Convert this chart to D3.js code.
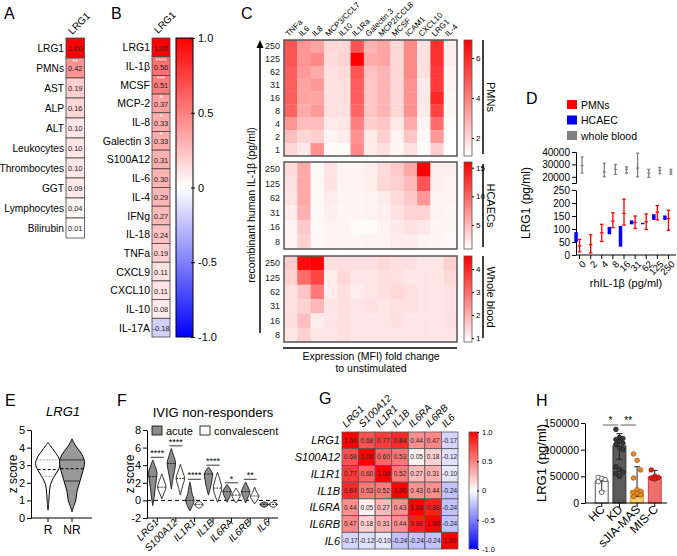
<!DOCTYPE html>
<html><head><meta charset="utf-8">
<script src="https://cdn.jsdelivr.net/npm/d3@7"></script>
<style>body{margin:0;background:#fff}svg{display:block}text{font-family:"Liberation Sans",Arial,sans-serif}</style>
</head><body><svg id="chart" width="677" height="556"></svg>
<script>
// ---------------- DATA ----------------
const aLabels = ["LRG1","PMNs","AST","ALP","ALT","Leukocytes","Thrombocytes","GGT","Lymphocytes","Bilirubin"];
const aValues = [1.00,0.42,0.19,0.16,0.10,0.10,0.10,0.09,0.04,0.01];
const aStars  = ["","**","","","","","","","",""];

const bLabels = ["LRG1","IL-1β","MCSF","MCP-2","IL-8","Galectin 3","S100A12","IL-6","IL-4","IFNg","IL-18","TNFa","CXCL9","CXCL10","IL-10","IL-17A"];
const bValues = [1.00,0.56,0.51,0.37,0.33,0.33,0.31,0.30,0.29,0.27,0.24,0.19,0.11,0.11,0.08,-0.18];
const bStars  = ["","****","***","*","*","*","","","","","","","","","",""];
const corrTicks = [-1,-0.5,0,0.5,1];

const cColumns = ["TNFa","IL6","IL8","MCP3/CCL7","IL10","IL1Ra","Galectin 3","MCP2/CCL8","MCSF","ICAM1","CXCL10","LRG1","IL-4"];
const cRowsPMN = ["250","125","62","31","16","8","4","2","1"];
const cRowsOther = ["250","125","62","31","16","8"];
const cPMN = [
 [5.0,3.5,3.2,2.0,2.0,5.0,2.8,3.2,2.0,3.8,1.8,5.8,1.5],
 [5.0,3.5,3.8,1.9,2.1,6.9,3.0,3.2,2.0,3.8,1.8,5.8,1.5],
 [4.8,3.4,3.0,1.8,1.9,5.0,2.5,2.8,2.0,3.8,1.8,5.6,1.4],
 [4.8,3.2,3.4,1.8,1.8,4.8,2.4,2.8,2.0,3.6,1.6,5.6,1.4],
 [4.8,3.2,3.2,1.8,1.8,4.8,2.4,2.8,2.0,3.6,1.6,6.0,1.3],
 [4.6,3.0,3.4,1.8,1.8,4.6,2.4,2.8,2.0,3.6,1.6,5.4,1.3],
 [3.5,2.6,2.6,1.6,1.7,4.0,2.2,2.4,1.6,3.0,1.4,4.4,1.2],
 [2.6,2.0,2.2,1.4,1.5,3.6,1.6,2.2,1.4,2.4,1.3,3.4,1.1],
 [2.0,1.6,3.6,1.2,1.2,3.8,1.6,1.8,1.3,1.8,1.2,2.2,1.1]
];
const cHCAEC = [
 [3.0,6.0,1.2,2.5,1.6,1.6,1.8,3.0,4.0,6.0,16.0,1.8,1.8],
 [2.6,6.0,1.2,2.6,1.5,1.6,1.8,3.2,3.6,5.0,11.0,1.8,1.6],
 [2.4,6.0,1.2,2.0,1.5,1.4,1.6,2.0,3.0,4.0,7.0,1.6,1.6],
 [2.0,5.5,1.2,1.8,1.4,1.4,1.6,1.8,2.6,3.4,3.4,1.6,1.4],
 [1.6,4.0,1.2,1.6,1.4,1.1,1.1,1.6,2.2,2.6,2.2,1.4,1.4],
 [1.6,3.6,1.2,1.6,1.4,1.4,1.6,1.6,2.0,2.0,1.6,1.4,1.2]
];
const cWB = [
 [1.6,4.4,4.6,1.3,1.3,1.3,1.3,1.4,1.3,1.3,1.2,1.2,1.5],
 [1.5,3.0,3.6,1.1,1.4,1.2,1.2,1.3,1.3,1.2,1.2,1.2,1.4],
 [1.3,1.7,2.8,1.1,1.3,1.1,1.2,1.3,1.4,1.3,1.2,1.2,1.3],
 [1.3,1.5,1.9,1.2,1.3,1.2,1.3,1.2,1.3,1.3,1.2,1.2,1.3],
 [1.3,1.8,1.1,1.2,1.3,1.2,1.2,1.2,1.3,1.2,1.2,1.2,1.3],
 [1.2,1.5,1.2,1.2,1.3,1.2,1.2,1.2,1.2,1.2,1.2,1.2,1.2]
];
const cTicksPMN = [2,4,6], cTicksHC = [5,10,15], cTicksWB = [1,2,3,4];

const dCats = ["0","2","4","8","16","31","62","125","250"];
// [min, mean, max]
const dPMN = [[12,35,60],[8,40,78],[52,85,118],[105,130,162],[115,160,215],[102,125,150],[98,128,158],[135,165,190],[95,140,172]];
const dHCAEC = [[50,70,88],null,null,[80,92,108],[32,60,112],[118,126,133],[120,122,124],[135,147,157],[135,143,152]];
const dWB = [[23000,29000,36000],null,[20000,24000,31000],[22000,26000,30000],[23000,26000,28000],[20000,27000,39000],[19500,23000,26000],[22500,25000,27500],[22000,24000,26000]];
const dTicksTop = [20000,30000,40000], dTicksBottom = [0,50,100,150,200,250];

const eGroups = ["R","NR"];
const eR  = [[0.45,0],[0.9,0.06],[1.4,0.1],[1.9,0.2],[2.3,0.45],[2.7,0.8],[3.1,1],[3.5,0.8],[3.8,0.5],[4.1,0.2],[4.3,0]];
const eNR = [[0.35,0],[0.7,0.15],[1.0,0.3],[1.5,0.4],[2.0,0.6],[2.5,0.8],[2.9,0.95],[3.2,1],[3.6,0.8],[3.9,0.5],[4.2,0.2],[4.5,0]];
const eStats = [[2.35,2.75,3.3],[2.1,2.8,3.3]]; // q1, median, q3

const fCats = ["LRG1","S100A12","IL1R1","IL1B","IL6RA","IL6RB","IL6"];
const fAcute = [
 [[-0.6,0],[0.5,0.35],[1.5,0.6],[2.5,0.9],[3.2,1],[3.9,0.55],[4.6,0]],
 [[1.3,0],[2.5,0.4],[3.5,0.8],[4.3,1],[5.0,0.6],[5.9,0]],
 [[-1.2,0],[-0.6,0.6],[0,1],[0.8,0.5],[1.5,0.25],[2.1,0]],
 [[0.6,0],[1.5,0.5],[2.4,0.85],[3.0,1],[3.4,0.6],[3.8,0]],
 [[-0.2,0],[0.4,0.6],[1.0,1],[1.4,0.6],[1.8,0]],
 [[-0.3,0],[0.4,0.6],[1.0,1],[1.5,0.6],[2.1,0]],
 [[-0.8,0],[-0.6,0.8],[-0.45,1],[-0.3,0.7],[-0.15,0]]
];
const fConv = [
 [[0.2,0],[0.8,0.5],[1.5,1],[2.2,0.6],[3.0,0]],
 [[0.6,0],[1.5,0.45],[2.5,1],[3.2,0.6],[4.1,0]],
 [[-0.9,0],[-0.65,0.8],[-0.45,1],[-0.25,0.6],[-0.05,0]],
 [[-0.2,0],[0.6,0.6],[1.4,1],[2.3,0.6],[3.2,0]],
 [[-0.3,0],[0.2,0.7],[0.6,1],[1.0,0.5],[1.4,0]],
 [[-0.4,0],[0.1,0.7],[0.5,1],[0.9,0.5],[1.5,0]],
 [[-0.8,0],[-0.6,0.8],[-0.45,1],[-0.3,0.7],[-0.15,0]]
];
const fMedAcute = [2.7,4.2,0,3.0,1.0,1.0,-0.45];
const fMedConv  = [1.5,2.5,-0.45,1.4,0.6,0.5,-0.45];
const fSig = ["****","****","****","****","*","**",""];
const fSigAt = [4.9,6.2,2.4,4.0,2.0,2.4,null];
const fTicks = [-2,0,2,4,6,8];

const gLabels = ["LRG1","S100A12","IL1R1","IL1B","IL6RA","IL6RB","IL6"];
const gMatrix = [
 [1.00,0.68,0.77,0.84,0.44,0.47,-0.17],
 [0.68,1.00,0.60,0.53,0.05,0.18,-0.12],
 [0.77,0.60,1.00,0.52,0.27,0.31,-0.10],
 [0.84,0.53,0.52,1.00,0.43,0.44,-0.24],
 [0.44,0.05,0.27,0.43,1.00,0.88,-0.24],
 [0.47,0.18,0.31,0.44,0.88,1.00,-0.24],
 [-0.17,-0.12,-0.10,-0.24,-0.24,-0.24,1.00]
];

const hGroups = ["HC","KD","sJIA-MAS","MIS-C"];
const hMeans = [41000,107000,23000,49000];
const hErrLow = [22000,82000,12000,43000];
const hErrHigh = [48000,130000,68000,61000];
const hPoints = [
 [48000,46000,44000,40000,20000],
 [138000,123000,121000,119000,115000,112000,110000,104000,100000,68000,63000,58000,55000,50000],
 [92000,80000,62000,47000,25000,22000,20000,18000,15000,12000],
 [62000,50000,48000,47000,45000]
];
const hTicks = [0,50000,100000,150000];

// ---------------- HELPERS ----------------
const FONT = '"Liberation Sans", Arial, sans-serif';
const svg = d3.select("#chart");
const defs = svg.append("defs");
function vgrad(id, stops){
  const g = defs.append("linearGradient").attr("id",id).attr("x1",0).attr("y1",0).attr("x2",0).attr("y2",1);
  stops.forEach(s=>g.append("stop").attr("offset",s[0]).attr("stop-color",s[1]));
}
vgrad("gRWB", [["0%","#ff0000"],["50%","#ffffff"],["100%","#0000ff"]]);
vgrad("gWR", [["0%","#ff0000"],["100%","#ffffff"]]);
const rwb = d3.scaleLinear().domain([-1,0,1]).range(["#0000ff","#ffffff","#ff0000"]);
const hy = s => String(s).replace("\u2212","-");
const f2 = v => hy(d3.format(".2f")(v));
const fCorr = d => d===0 ? "0" : hy(d3.format(".1f")(d));
const fInt = d => hy(d3.format("d")(d));

function txt(g, x, y, s, size, o={}) {
  const t = g.append("text").attr("x",x).attr("y",y).attr("font-size",size).text(s);
  if (o.anchor) t.attr("text-anchor", o.anchor);
  if (o.rot != null) t.attr("transform", `rotate(${o.rot},${x},${y})`);
  if (o.italic) t.attr("font-style","italic");
  if (o.fill) t.attr("fill", o.fill);
  return t;
}
function styleAxis(g, size){
  g.attr("font-family", FONT).attr("font-size", size);
  g.selectAll("path,line").attr("stroke","#000");
  g.selectAll("text").attr("fill","#000");
  return g;
}
function interpW(prof, v){
  for (let i=1;i<prof.length;i++){
    if (v <= prof[i][0]) {
      const a = prof[i-1], b = prof[i];
      return a[1] + (b[1]-a[1])*(v-a[0])/(b[0]-a[0]);
    }
  }
  return 0;
}
function violin(g, prof, cx, yS, half, fill, sw){
  const area = d3.area().curve(d3.curveCatmullRom)
    .y(d=>yS(d[0])).x0(d=>cx - d[1]*half).x1(d=>cx + d[1]*half);
  g.append("path").attr("d", area(prof)).attr("fill", fill).attr("stroke","#000").attr("stroke-width", sw||1);
}

// Panel letters
[["A",4,19],["B",111,19],["C",241,19],["D",526,104],["E",5,406],["F",117,406],["G",319,404],["H",536,406]]
  .forEach(l=>txt(svg,l[1],l[2],l[0],16));

// ---------------- PANEL A ----------------
{
  const g = svg.append("g");
  const y = d3.scaleBand().domain(aLabels).range([38,238]);
  const x = d3.scaleBand().domain(["LRG1"]).range([66,84.5]);
  const cx = x("LRG1") + x.bandwidth()/2;
  g.selectAll("rect").data(aLabels).join("rect")
    .attr("x", x("LRG1")).attr("y", d=>y(d)).attr("width", x.bandwidth()).attr("height", y.bandwidth())
    .attr("fill", (d,i)=>rwb(aValues[i])).attr("stroke","#444").attr("stroke-width",0.8);
  aLabels.forEach((d,i)=>{
    const my = y(d)+y.bandwidth()/2;
    txt(g, 64, my+4, d, 10.2, {anchor:"end"});
    txt(g, cx, my+3, f2(aValues[i]), 7.5, {anchor:"middle", fill:"#222"});
    if (aStars[i]) txt(g, cx, y(d)+6, aStars[i], 7, {anchor:"middle", fill:"#fff"});
  });
  txt(g, cx-3, 35, "LRG1", 10, {rot:-45});
}

// ---------------- PANEL B ----------------
{
  const g = svg.append("g");
  const y = d3.scaleBand().domain(bLabels).range([38,337]);
  const x = d3.scaleBand().domain(["LRG1"]).range([152,170]);
  const cx = x("LRG1") + x.bandwidth()/2;
  g.selectAll("rect").data(bLabels).join("rect")
    .attr("x", x("LRG1")).attr("y", d=>y(d)).attr("width", x.bandwidth()).attr("height", y.bandwidth())
    .attr("fill", (d,i)=>rwb(bValues[i])).attr("stroke","#444").attr("stroke-width",0.8);
  bLabels.forEach((d,i)=>{
    const my = y(d)+y.bandwidth()/2;
    txt(g, 150, my+4, d, 10.5, {anchor:"end"});
    txt(g, cx, my+3.5, f2(bValues[i]), 7.5, {anchor:"middle", fill:"#222"});
    if (bStars[i]) txt(g, cx, y(d)+6, bStars[i], 7, {anchor:"middle", fill:"#fff"});
  });
  txt(g, cx-3, 34, "LRG1", 10, {rot:-45});
  g.append("rect").attr("x",176).attr("y",38).attr("width",17).attr("height",299)
    .attr("fill","url(#gRWB)").attr("stroke","#000").attr("stroke-width",1);
  const s = d3.scaleLinear().domain([-1,1]).range([337,38]);
  const ax = g.append("g").attr("transform","translate(191,0)")
    .call(d3.axisRight(s).tickValues(corrTicks).tickSize(4).tickPadding(3).tickFormat(fCorr));
  ax.select(".domain").remove();
  styleAxis(ax, 11);
}

// ---------------- PANEL C ----------------
{
  const g = svg.append("g");
  const x = d3.scaleBand().domain(cColumns).range([284,457]);
  const panels = [
    {rows:cRowsPMN, data:cPMN, y0:40, y1:156, ticks:cTicksPMN, dom:[1.1,6.9], name:"PMNs", ly0:40, ly1:154},
    {rows:cRowsOther, data:cHCAEC, y0:162, y1:249, ticks:cTicksHC, dom:[0.8,16], name:"HCAECs", ly0:164, ly1:247},
    {rows:cRowsOther, data:cWB, y0:256, y1:342, ticks:cTicksWB, dom:[0.83,4.57], name:"Whole blood", ly0:256, ly1:338}
  ];
  panels.forEach(p=>{
    const y = d3.scaleBand().domain(p.rows).range([p.y0,p.y1]);
    const col = d3.scaleLinear().domain(p.dom).range(["#ffffff","#ff0000"]).clamp(true);
    const cells = [];
    p.rows.forEach((r,i)=>cColumns.forEach((c,j)=>cells.push({r,c,v:p.data[i][j]})));
    g.append("g").selectAll("rect").data(cells).join("rect")
      .attr("x", d=>x(d.c)).attr("y", d=>y(d.r)).attr("width", x.bandwidth()+0.3).attr("height", y.bandwidth()+0.3)
      .attr("fill", d=>col(d.v));
    g.append("rect").attr("x",284).attr("y",p.y0).attr("width",173).attr("height",p.y1-p.y0)
      .attr("fill","none").attr("stroke","#555").attr("stroke-width",1.5);
    p.rows.forEach(r=>txt(g, 280, y(r)+y.bandwidth()/2+3, r, 9, {anchor:"end", fill:"#222"}));
    g.append("rect").attr("x",464).attr("y",p.y0).attr("width",8).attr("height",p.y1-p.y0)
      .attr("fill","url(#gWR)").attr("stroke","#555").attr("stroke-width",0.8);
    const s = d3.scaleLinear().domain(p.dom).range([p.y1,p.y0]);
    const ax = g.append("g").attr("transform","translate(472,0)")
      .call(d3.axisRight(s).tickValues(p.ticks).tickSize(2).tickPadding(2).tickFormat(fInt));
    ax.select(".domain").remove();
    styleAxis(ax, 8);
    g.append("line").attr("x1",483).attr("x2",483).attr("y1",p.ly0).attr("y2",p.ly1).attr("stroke","#000").attr("stroke-width",1.5);
    txt(g, 487, (p.ly0+p.ly1)/2, p.name, 11, {anchor:"middle", rot:90});
  });
  cColumns.forEach(c=>txt(g, x(c)+x.bandwidth()/2-2, 37, c, 8, {rot:-45}));
  g.append("line").attr("x1",260).attr("x2",260).attr("y1",46).attr("y2",333).attr("stroke","#000").attr("stroke-width",1.5);
  g.append("path").attr("d","M256.5,48 L263.5,48 L260,40 Z").attr("fill","#000");
  txt(g, 255, 205, "recombinant human IL-1β (pg/ml)", 10.5, {anchor:"middle", rot:-90});
  g.append("line").attr("x1",283).attr("x2",457).attr("y1",348).attr("y2",348).attr("stroke","#000").attr("stroke-width",1.5);
  txt(g, 371, 360, "Expression (MFI) fold change", 10.5, {anchor:"middle"});
  txt(g, 371, 372, "to unstimulated", 10.5, {anchor:"middle"});
}

// ---------------- PANEL D ----------------
{
  const g = svg.append("g");
  const legend = [["PMNs","#ff0000"],["HCAEC","#0000ff"],["whole blood","#808080"]];
  legend.forEach((l,i)=>{
    g.append("rect").attr("x",567).attr("y",100+i*15.5).attr("width",10).attr("height",9).attr("fill",l[1]);
    txt(g, 581, 108.5+i*15.5, l[0], 10.5);
  });
  const x = d3.scaleBand().domain(dCats).range([574,674]);
  const yT = d3.scaleLinear().domain([15000,40000]).range([183,152]);
  const yB = d3.scaleLinear().domain([0,250]).range([255,190]);
  const axT = g.append("g").attr("transform","translate(576,0)")
    .call(d3.axisLeft(yT).tickValues(dTicksTop).tickSize(4).tickSizeOuter(4).tickPadding(2).tickFormat(fInt));
  styleAxis(axT, 10);
  const axB = g.append("g").attr("transform","translate(576,0)")
    .call(d3.axisLeft(yB).tickValues(dTicksBottom).tickSize(4).tickSizeOuter(0).tickPadding(2).tickFormat(fInt));
  styleAxis(axB, 10);
  g.append("line").attr("x1",576).attr("x2",676).attr("y1",255).attr("y2",255).attr("stroke","#000");
  const axX = g.append("g").attr("transform","translate(0,255)")
    .call(d3.axisBottom(x).tickSize(4).tickSizeOuter(0));
  axX.select(".domain").remove();
  styleAxis(axX, 9.5);
  axX.selectAll(".tick text").attr("text-anchor","end").attr("dx","-0.2em").attr("dy","0.5em").attr("transform","rotate(-45)");
  const cxOf = c => x(c) + x.bandwidth()/2;
  function rangeMark(arr, yS, off, color, w, asRect){
    arr.forEach((d,i)=>{
      if (!d) return;
      const cx = cxOf(dCats[i]) + off;
      if (asRect) {
        g.append("rect").attr("x",cx-w/2).attr("y",yS(d[2])).attr("width",w).attr("height",Math.max(1.5,yS(d[0])-yS(d[2]))).attr("fill",color);
      } else {
        g.append("line").attr("x1",cx).attr("x2",cx).attr("y1",yS(d[0])).attr("y2",yS(d[2])).attr("stroke",color).attr("stroke-width",1.3);
        [d[0],d[1],d[2]].forEach(v=>g.append("line").attr("x1",cx-w/2).attr("x2",cx+w/2).attr("y1",yS(v)).attr("y2",yS(v)).attr("stroke",color).attr("stroke-width",1.3));
      }
    });
  }
  rangeMark(dHCAEC, yB, -3.5, "#0000ff", 3.5, true);
  rangeMark(dPMN, yB, 0, "#ff0000", 3.5, false);
  rangeMark(dWB, yT, 2.5, "#808080", 3, false);
  txt(g, 530, 203, "LRG1 (pg/ml)", 12, {anchor:"middle", rot:-90});
  txt(g, 626, 287, "rhIL-1β (pg/ml)", 11, {anchor:"middle"});
}

// ---------------- PANEL E ----------------
{
  const g = svg.append("g");
  const y = d3.scaleLinear().domain([0,5]).range([518,430]);
  const x = d3.scaleBand().domain(eGroups).range([36,84]);
  const ay = g.append("g").attr("transform","translate(31,0)").call(d3.axisLeft(y).ticks(5).tickSize(4).tickPadding(2).tickSizeOuter(0).tickFormat(fInt));
  styleAxis(ay, 11);
  g.append("line").attr("x1",31).attr("x2",92).attr("y1",518).attr("y2",518).attr("stroke","#000");
  const ax = g.append("g").attr("transform","translate(0,518)").call(d3.axisBottom(x).tickSize(4).tickPadding(3));
  ax.select(".domain").remove();
  styleAxis(ax, 12);
  const profs = [eR, eNR], fills = ["#ffffff","#999999"];
  eGroups.forEach((grp,i)=>{
    const cx = x(grp)+x.bandwidth()/2;
    violin(g, profs[i], cx, y, 12.5, fills[i], 1);
    eStats[i].forEach((v,k)=>{
      const w = interpW(profs[i], v)*12.5;
      g.append("line").attr("x1",cx-w).attr("x2",cx+w).attr("y1",y(v)).attr("y2",y(v))
        .attr("stroke", k===1 ? "#000" : (i===0?"#aaa":"#333")).attr("stroke-width",1)
        .attr("stroke-dasharray", k===1 ? "3,2" : (i===0?"2,1":null));
    });
  });
  txt(g, 63, 416, "LRG1", 13, {anchor:"middle", italic:true});
  txt(g, 17, 474, "z score", 12, {anchor:"middle", rot:-90});
}

// ---------------- PANEL F ----------------
{
  const g = svg.append("g");
  const y = d3.scaleLinear().domain([-2,8]).range([518,430]);
  const x = d3.scaleBand().domain(fCats).range([148,278]);
  const ay = g.append("g").attr("transform","translate(147,0)").call(d3.axisLeft(y).tickValues(fTicks).tickSize(4).tickPadding(2).tickSizeOuter(0).tickFormat(fInt));
  styleAxis(ay, 11);
  g.append("line").attr("x1",147).attr("x2",278).attr("y1",518).attr("y2",518).attr("stroke","#000");
  const ax = g.append("g").attr("transform","translate(0,518)").call(d3.axisBottom(x).tickSize(4).tickFormat(""));
  ax.select(".domain").remove();
  styleAxis(ax, 10);
  g.append("line").attr("x1",147).attr("x2",278).attr("y1",y(0)).attr("y2",y(0)).attr("stroke","#000").attr("stroke-dasharray","4,3");
  fCats.forEach((c,i)=>{
    const cx = x(c)+x.bandwidth()/2;
    const xa = cx-4.5, xc = cx+4.5;
    violin(g, fAcute[i], xa, y, 4.2, "#8c8c8c", 0.8);
    violin(g, fConv[i], xc, y, 4.2, "#ffffff", 0.8);
    [[xa,fAcute[i],fMedAcute[i]],[xc,fConv[i],fMedConv[i]]].forEach(q=>{
      const w = interpW(q[1], q[2])*4.2;
      g.append("line").attr("x1",q[0]-w).attr("x2",q[0]+w).attr("y1",y(q[2])).attr("y2",y(q[2])).attr("stroke","#000").attr("stroke-width",0.8).attr("stroke-dasharray","2,1");
    });
    if (fSig[i]) {
      g.append("line").attr("x1",xa-2).attr("x2",xc+2).attr("y1",y(fSigAt[i])).attr("y2",y(fSigAt[i])).attr("stroke","#000").attr("stroke-width",0.8);
      txt(g, cx, y(fSigAt[i])-1, fSig[i], 9, {anchor:"middle"});
    }
    txt(g, cx+2, 523, c, 10, {anchor:"end", rot:-45, italic:true});
  });
  g.append("rect").attr("x",152).attr("y",426).attr("width",10).attr("height",9).attr("fill","#8c8c8c").attr("stroke","#000").attr("stroke-width",0.8);
  txt(g, 166, 434.5, "acute", 11);
  g.append("rect").attr("x",200).attr("y",426).attr("width",10).attr("height",9).attr("fill","#fff").attr("stroke","#000").attr("stroke-width",0.8);
  txt(g, 214, 434.5, "convalescent", 11);
  txt(g, 213, 417, "IVIG non-responders", 13, {anchor:"middle"});
  txt(g, 134, 474, "z score", 12, {anchor:"middle", rot:-90});
}

// ---------------- PANEL G ----------------
{
  const g = svg.append("g");
  const x = d3.scaleBand().domain(gLabels).range([342,458]);
  const y = d3.scaleBand().domain(gLabels).range([432,549]);
  const cells = [];
  gLabels.forEach((r,i)=>gLabels.forEach((c,j)=>cells.push({r,c,v:gMatrix[i][j]})));
  g.selectAll("rect.cell").data(cells).join("rect").attr("class","cell")
    .attr("x",d=>x(d.c)).attr("y",d=>y(d.r)).attr("width",x.bandwidth()).attr("height",y.bandwidth())
    .attr("fill",d=>rwb(d.v)).attr("stroke","#555").attr("stroke-width",0.8);
  cells.forEach(d=>txt(g, x(d.c)+x.bandwidth()/2, y(d.r)+y.bandwidth()/2+2.3, f2(d.v), 6.5, {anchor:"middle", fill:"#222"}));
  gLabels.forEach(l=>{
    txt(g, 340, y(l)+y.bandwidth()/2+4, l, 11, {anchor:"end", italic:true});
    txt(g, x(l)+x.bandwidth()/2-4, 428, l, 10, {rot:-45, italic:true});
  });
  g.append("rect").attr("x",469).attr("y",432).attr("width",9).attr("height",117)
    .attr("fill","url(#gRWB)").attr("stroke","#555").attr("stroke-width",0.8);
  const s = d3.scaleLinear().domain([-1,1]).range([549,432]);
  const ax = g.append("g").attr("transform","translate(477,0)")
    .call(d3.axisRight(s).tickValues(corrTicks).tickSize(2).tickPadding(3).tickFormat(fCorr));
  ax.select(".domain").remove();
  styleAxis(ax, 7.5);
}

// ---------------- PANEL H ----------------
{
  const g = svg.append("g");
  const y = d3.scaleLinear().domain([0,150000]).range([503,423]);
  const x = d3.scaleBand().domain(hGroups).range([590.5,666]).padding(0.27);
  const fills = ["#ffffff","#5a5a5a","#f8d06b","#f26d6d"];
  const strokes = ["#555","#333","#c9a040","#c04848"];
  const ptFill = ["#ffffff","#3a3a3a","#e8892b","#e0201b"];
  const ptStroke = ["#444","#222","#a85a10","#a01010"];
  hGroups.forEach((grp,i)=>{
    const bx = x(grp), bw = x.bandwidth(), cx = bx+bw/2;
    g.append("rect").attr("x",bx).attr("y",y(hMeans[i])).attr("width",bw).attr("height",y(0)-y(hMeans[i]))
      .attr("fill",fills[i]).attr("stroke",strokes[i]).attr("stroke-width",1);
    g.append("line").attr("x1",cx).attr("x2",cx).attr("y1",y(hErrLow[i])).attr("y2",y(hErrHigh[i])).attr("stroke","#222").attr("stroke-width",1);
    [hErrLow[i],hErrHigh[i]].forEach(v=>g.append("line").attr("x1",cx-3).attr("x2",cx+3).attr("y1",y(v)).attr("y2",y(v)).attr("stroke","#222").attr("stroke-width",1));
    hPoints[i].forEach((v,k)=>{
      const off = ((k%3)-1)*3.5;
      g.append("circle").attr("cx",cx+off).attr("cy",y(v)).attr("r",2.3)
        .attr("fill",ptFill[i]).attr("stroke",ptStroke[i]).attr("stroke-width",0.8);
    });
  });
  const ay = g.append("g").attr("transform","translate(585,0)").call(d3.axisLeft(y).tickValues(hTicks).tickSize(4).tickPadding(2).tickSizeOuter(0).tickFormat(fInt));
  styleAxis(ay, 10.5);
  g.append("line").attr("x1",585).attr("x2",667).attr("y1",503).attr("y2",503).attr("stroke","#000");
  const ax = g.append("g").attr("transform","translate(0,503)").call(d3.axisBottom(x).tickSize(4).tickFormat(""));
  ax.select(".domain").remove();
  styleAxis(ax, 10);
  hGroups.forEach(grp=>txt(g, x(grp)+x.bandwidth()/2+4, 510, grp, 12, {anchor:"end", rot:-45}));
  const sig = [[0,1,"*"],[1,2,"**"]];
  sig.forEach(s=>{
    const x1 = x(hGroups[s[0]])+x.bandwidth()/2, x2 = x(hGroups[s[1]])+x.bandwidth()/2;
    g.append("line").attr("x1",x1+1).attr("x2",x2-1).attr("y1",425).attr("y2",425).attr("stroke","#888").attr("stroke-width",1.3);
    txt(g, (x1+x2)/2, 424, s[2], 10, {anchor:"middle"});
  });
  txt(g, 546, 463, "LRG1 (pg/ml)", 13, {anchor:"middle", rot:-90});
}
</script></body></html>
